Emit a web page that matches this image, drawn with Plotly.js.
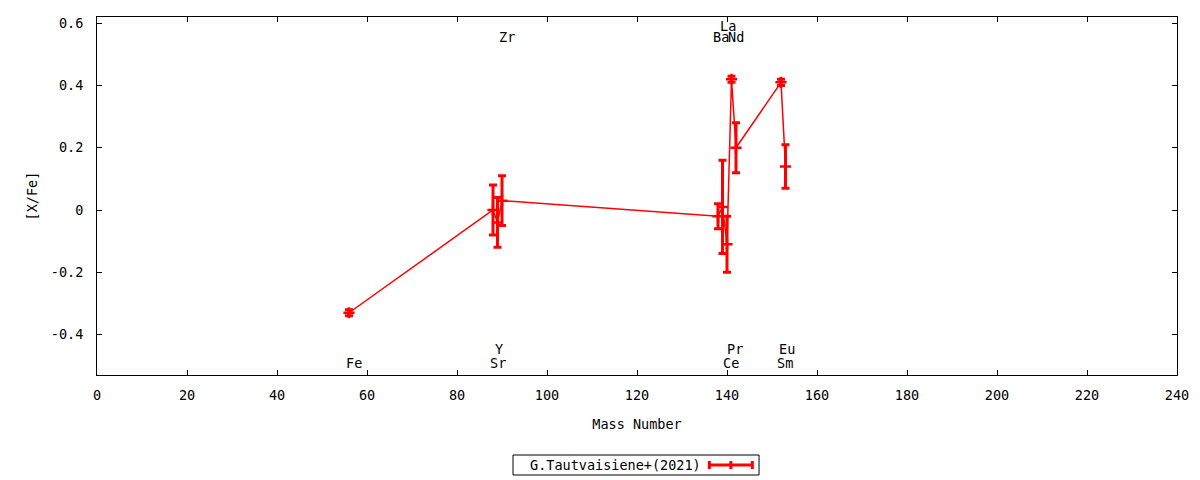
<!DOCTYPE html>
<html>
<head>
<meta charset="utf-8">
<script src="https://cdn.plot.ly/plotly-3.0.1.min.js"></script>
<style>
  body { margin: 0; background: #fff; }
  #chart { width: 1200px; height: 480px; }
</style>
</head>
<body>
<div id="chart"></div>
<script>
// abundance pattern
const elements = ['Fe', 'Sr', 'Y', 'Zr', 'Ba', 'La', 'Ce', 'Pr', 'Nd', 'Sm', 'Eu'];
const massNumber = [56, 88, 89, 90, 138, 139, 140, 141, 142, 152, 153];
const xfe = [-0.33, 0.00, -0.04, 0.03, -0.02, 0.01, -0.11, 0.42, 0.20, 0.41, 0.14];
const xfeErr = [0.01, 0.08, 0.08, 0.08, 0.04, 0.15, 0.09, 0.01, 0.08, 0.01, 0.07];

// element name labels, left edge (data units)
const labelX = [55.5, 87.6, 88.6, 89.6, 137.2, 138.6, 139.4, 140.3, 140.5, 151.4, 151.8];
const labelY = [-0.49, -0.49, -0.445, 0.555, 0.555, 0.59, -0.49, -0.445, 0.555, -0.49, -0.445];

const yTicks = [-0.4, -0.2, 0, 0.2, 0.4, 0.6];
const yTickText = ['-0.4', '-0.2', '0', '0.2', '0.4', '0.6'];

const legendName = 'G.Tautvaisiene+(2021)';
const red = '#ff0000';
const font = 'DejaVu Sans Mono';

const trace = {
	x: massNumber,
	y: xfe,
	type: 'scatter',
	mode: 'lines+markers',
	name: legendName,
	line: { color: red, width: 1.5 },
	marker: { symbol: 'cross-thin', size: 8, color: red, line: { color: red, width: 2.5 } },
	error_y: { type: 'data', array: xfeErr, visible: true, color: red, thickness: 3, width: 4 },
	showlegend: false
};

const annotations = elements.map((el, i) => ({
	x: labelX[i],
	y: labelY[i],
	xref: 'x',
	yref: 'y',
	text: el,
	showarrow: false,
	xanchor: 'left',
	yanchor: 'middle',
	xshift: -3,
	font: { family: font, size: 13.5, color: '#000' }
}));

// hand-made legend box: text first, sample on the right like gnuplot
const legY = -0.2514;
const capH = 0.0112;
annotations.push({
	x: 0.3995, y: legY, xref: 'paper', yref: 'paper',
	text: legendName, showarrow: false,
	xanchor: 'left', yanchor: 'middle',
	font: { family: font, size: 13.5, color: '#000' }
});
const shapes = [
	{ type: 'rect', xref: 'paper', yref: 'paper', x0: 0.3852, x1: 0.613, y0: -0.2793, y1: -0.2235,
		line: { color: '#000', width: 1 } },
	{ type: 'line', xref: 'paper', yref: 'paper', x0: 0.567, x1: 0.6068, y0: legY, y1: legY,
		line: { color: red, width: 3 } },
	{ type: 'line', xref: 'paper', yref: 'paper', x0: 0.567, x1: 0.567, y0: legY - capH, y1: legY + capH,
		line: { color: red, width: 3 } },
	{ type: 'line', xref: 'paper', yref: 'paper', x0: 0.6068, x1: 0.6068, y0: legY - capH, y1: legY + capH,
		line: { color: red, width: 3 } },
	{ type: 'line', xref: 'paper', yref: 'paper', x0: 0.5869, x1: 0.5869, y0: legY - capH, y1: legY + capH,
		line: { color: red, width: 3 } }
];

const layout = {
	width: 1200,
	height: 480,
	margin: { l: 97, r: 23, t: 17, b: 105 },
	paper_bgcolor: '#fff',
	plot_bgcolor: '#fff',
	font: { family: font, size: 13.5, color: '#000' },
	showlegend: false,
	xaxis: {
		range: [0, 240],
		dtick: 20,
		tick0: 0,
		ticks: 'inside',
		ticklen: 5,
		tickcolor: '#000',
		showline: true,
		linecolor: '#000',
		linewidth: 1,
		mirror: 'ticks',
		showgrid: false,
		zeroline: false,
		ticklabelstandoff: 8,
		title: { text: 'Mass Number', standoff: 17, font: { family: font, size: 13.5 } },
		automargin: false
	},
	yaxis: {
		range: [-0.53, 0.62],
		tickvals: yTicks,
		ticktext: yTickText,
		ticks: 'inside',
		ticklen: 5,
		tickcolor: '#000',
		showline: true,
		linecolor: '#000',
		linewidth: 1,
		mirror: 'ticks',
		showgrid: false,
		zeroline: false,
		ticklabelstandoff: 10,
		title: { text: '[X/Fe]', standoff: 10, font: { family: font, size: 13.5 } },
		automargin: false
	},
	annotations: annotations,
	shapes: shapes
};

Plotly.newPlot('chart', [trace], layout, { staticPlot: true });
</script>
</body>
</html>
